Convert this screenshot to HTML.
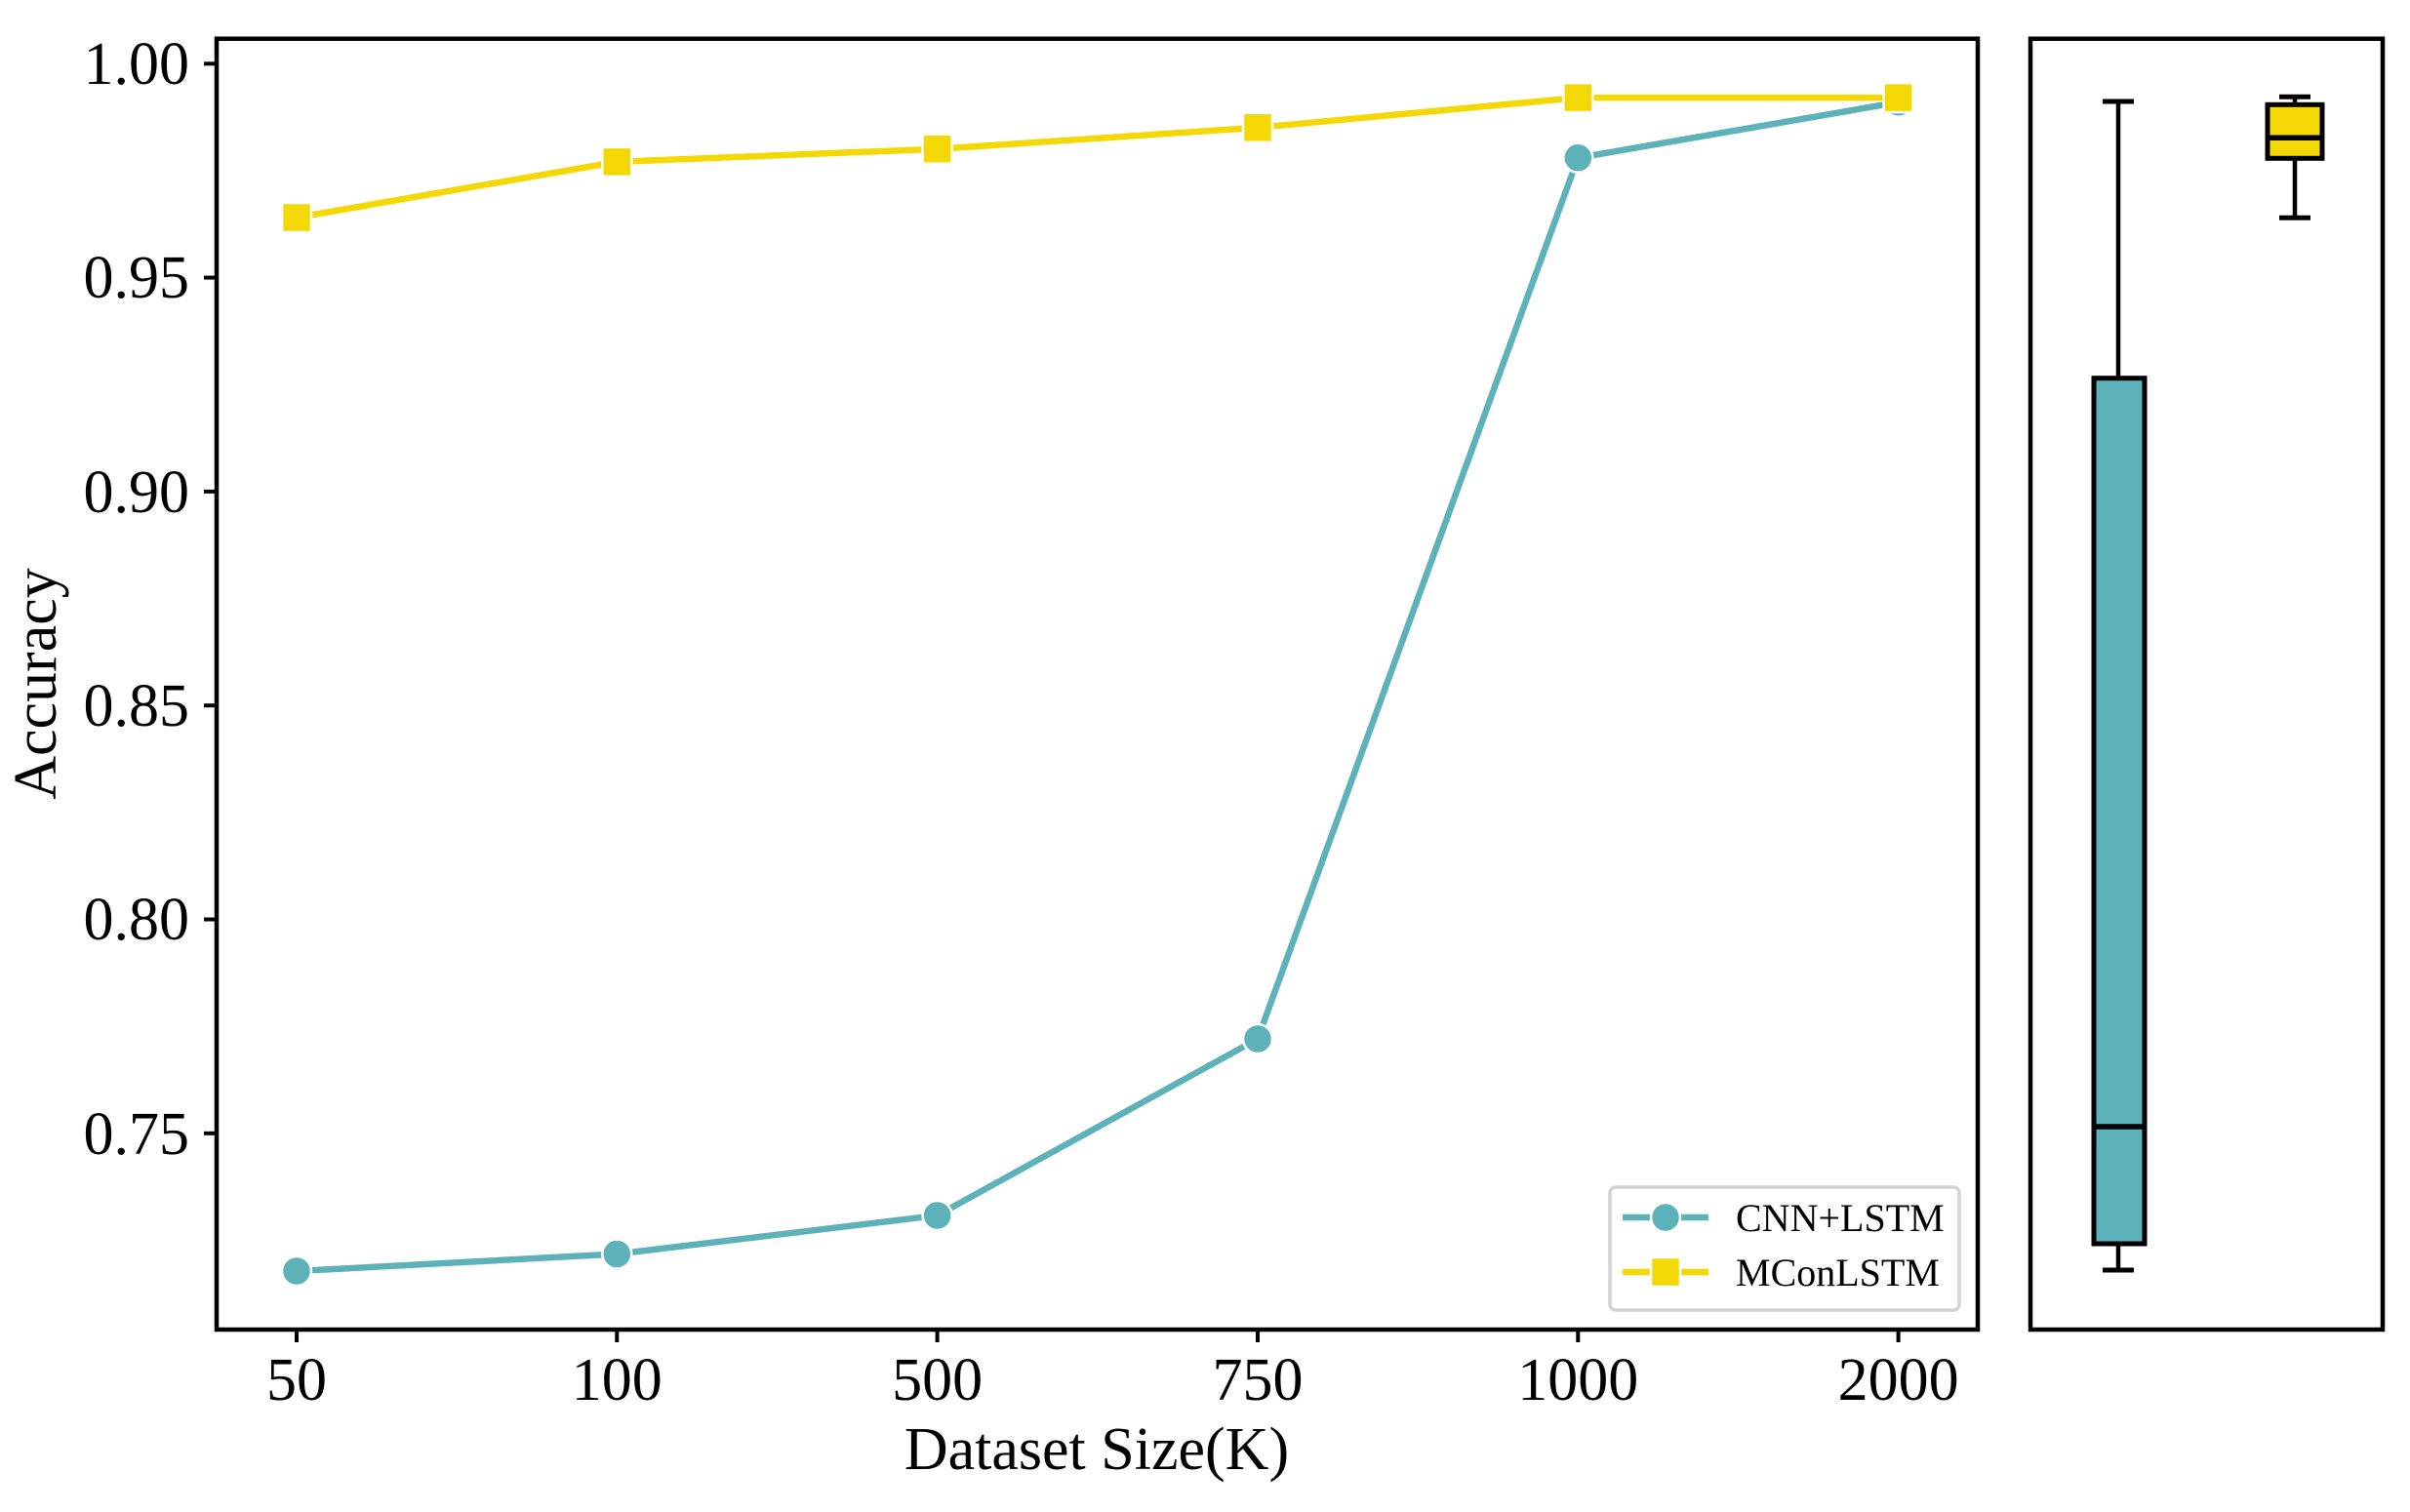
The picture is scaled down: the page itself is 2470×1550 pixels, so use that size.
<!DOCTYPE html>
<html><head><meta charset="utf-8"><style>html,body{margin:0;padding:0;background:#fff}</style></head>
<body>
<svg width="2470" height="1545" viewBox="0 0 2470 1545" xmlns="http://www.w3.org/2000/svg" font-family="'Liberation Serif', serif">
<rect width="2470" height="1545" fill="#fff"/>
<g stroke="#000" stroke-width="4">
<line x1="209" y1="65.3" x2="222" y2="65.3"/>
<line x1="209" y1="284.6" x2="222" y2="284.6"/>
<line x1="209" y1="503.9" x2="222" y2="503.9"/>
<line x1="209" y1="723.2" x2="222" y2="723.2"/>
<line x1="209" y1="942.5" x2="222" y2="942.5"/>
<line x1="209" y1="1161.8" x2="222" y2="1161.8"/>
<line x1="304" y1="1363" x2="304" y2="1376"/>
<line x1="632.3" y1="1363" x2="632.3" y2="1376"/>
<line x1="960.6" y1="1363" x2="960.6" y2="1376"/>
<line x1="1289" y1="1363" x2="1289" y2="1376"/>
<line x1="1617.3" y1="1363" x2="1617.3" y2="1376"/>
<line x1="1945.6" y1="1363" x2="1945.6" y2="1376"/>
</g>
<g font-size="62" text-anchor="end" fill="#000">
<text x="194" y="86">1.00</text>
<text x="194" y="305">0.95</text>
<text x="194" y="525">0.90</text>
<text x="194" y="744">0.85</text>
<text x="194" y="963">0.80</text>
<text x="194" y="1183">0.75</text>
</g>
<g font-size="62" text-anchor="middle" fill="#000">
<text x="304" y="1435">50</text>
<text x="632.3" y="1435">100</text>
<text x="960.6" y="1435">500</text>
<text x="1289" y="1435">750</text>
<text x="1617.3" y="1435">1000</text>
<text x="1945.6" y="1435">2000</text>
<text x="1124" y="1506">Dataset Size(K)</text>
<text transform="translate(57,701) rotate(-90)">Accuracy</text>
</g>
<polyline fill="none" stroke="#5db2b9" stroke-width="6.5" points="304,1303 632.3,1285.5 960.6,1246 1289,1065 1617.3,161.8 1945.6,104.8"/>
<g fill="#5db2b9" stroke="#fff" stroke-width="2.5">
<circle cx="304" cy="1303" r="15"/><circle cx="632.3" cy="1285.5" r="15"/><circle cx="960.6" cy="1246" r="15"/>
<circle cx="1289" cy="1065" r="15"/><circle cx="1617.3" cy="161.8" r="15"/><circle cx="1945.6" cy="104.8" r="15"/>
</g>
<polyline fill="none" stroke="#f4d806" stroke-width="6.5" points="304,223 632.3,165.9 960.6,152.7 1289,130.8 1617.3,100.1 1945.6,100.1"/>
<g fill="#f4d806" stroke="#fff" stroke-width="2.5">
<rect x="289" y="208" width="30" height="30"/><rect x="617.3" y="150.9" width="30" height="30"/><rect x="945.6" y="137.7" width="30" height="30"/>
<rect x="1274" y="115.8" width="30" height="30"/><rect x="1602.3" y="85.1" width="30" height="30"/><rect x="1930.6" y="85.1" width="30" height="30"/>
</g>
<rect x="222" y="39.7" width="1805" height="1323.3" fill="none" stroke="#000" stroke-width="4.5"/>
<rect x="1650" y="1217" width="358" height="126" rx="6" fill="#fff" stroke="#d3d3d3" stroke-width="3.5"/>
<line x1="1663" y1="1248" x2="1751" y2="1248" stroke="#5db2b9" stroke-width="6.5"/>
<circle cx="1707" cy="1248" r="15" fill="#5db2b9" stroke="#fff" stroke-width="2.5"/>
<line x1="1663" y1="1304" x2="1751" y2="1304" stroke="#f4d806" stroke-width="6.5"/>
<rect x="1692" y="1289" width="30" height="30" fill="#f4d806" stroke="#fff" stroke-width="2.5"/>
<g font-size="40" fill="#000">
<text x="1779" y="1262">CNN+LSTM</text>
<text x="1779" y="1318">MConLSTM</text>
</g>
<g stroke="#000">
<line x1="2171" y1="104" x2="2171" y2="387.7" stroke-width="4.5"/>
<line x1="2155" y1="104" x2="2187" y2="104" stroke-width="5"/>
<line x1="2171" y1="1275" x2="2171" y2="1302" stroke-width="4.5"/>
<line x1="2155" y1="1302" x2="2187" y2="1302" stroke-width="5"/>
<rect x="2146" y="387.7" width="52" height="887.3" fill="#5db2b9" stroke-width="5"/>
<line x1="2146" y1="1155" x2="2198" y2="1155" stroke-width="5.5"/>
<line x1="2352" y1="99.3" x2="2352" y2="107.3" stroke-width="4.5"/>
<line x1="2336" y1="99.3" x2="2368" y2="99.3" stroke-width="5"/>
<line x1="2352" y1="162.3" x2="2352" y2="223.3" stroke-width="4.5"/>
<line x1="2336" y1="223.3" x2="2368" y2="223.3" stroke-width="5"/>
<rect x="2324" y="107.3" width="56" height="55" fill="#f4d806" stroke-width="5"/>
<line x1="2324" y1="141.3" x2="2380" y2="141.3" stroke-width="5.5"/>
</g>
<rect x="2081" y="39.7" width="361" height="1323.3" fill="none" stroke="#000" stroke-width="4.5"/>
</svg>
</body></html>
